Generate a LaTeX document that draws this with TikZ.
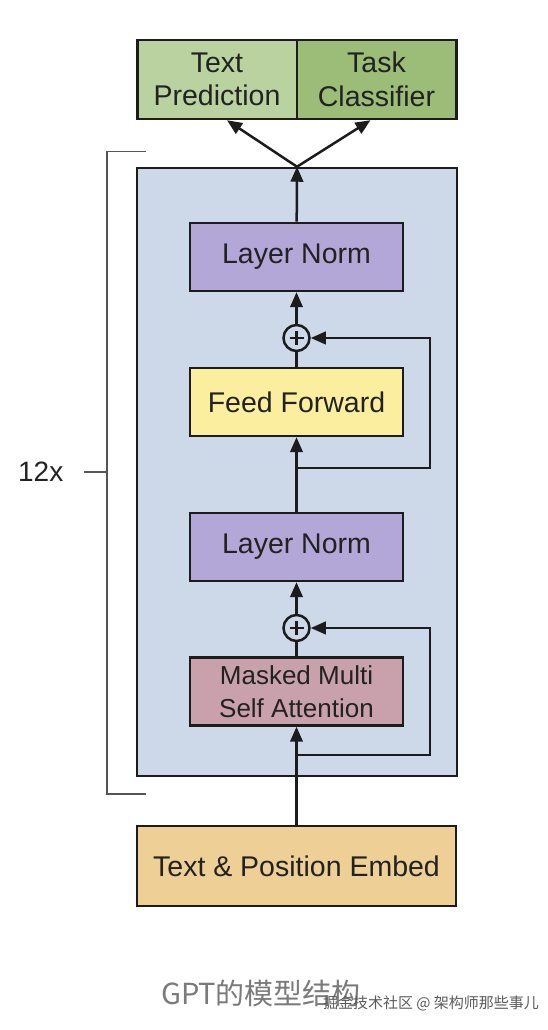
\documentclass[tikz,border=0pt]{standalone}
\usepackage{fontspec}
\setmainfont{Liberation Sans}
\newfontfamily\cjkfont{Noto Sans CJK SC}
\usepackage{xcolor}
\usetikzlibrary{positioning,arrows.meta}
\definecolor{stackblue}{HTML}{CDD9E9}
\definecolor{predgreen}{HTML}{B9D2A0}
\definecolor{clsgreen}{HTML}{9BBD77}
\definecolor{normpurple}{HTML}{B3A7D7}
\definecolor{ffyellow}{HTML}{FBEF9F}
\definecolor{attnpink}{HTML}{C9A1AD}
\definecolor{embedtan}{HTML}{EECF96}
\definecolor{boxline}{HTML}{1C1C1C}
\definecolor{textdark}{HTML}{222222}
\definecolor{bracketgray}{HTML}{555555}
\definecolor{captiongray}{HTML}{7A7A7A}
\definecolor{markgray}{HTML}{5A5A5A}

\begin{document}
\begin{tikzpicture}[x=1pt,y=1pt,auto,every node/.style={on grid},
    >={Triangle[length=15pt,width=12.5pt]},
    block/.style={draw=boxline,line width=2.5pt,minimum width=213pt,minimum height=68pt,
      inner sep=0pt,align=center,text=textdark,font=\fontsize{28.5}{33.5}\selectfont},
    head/.style={block,minimum width=159.5pt,minimum height=79pt},
    plus/.style={draw=boxline,line width=2.5pt,circle,minimum size=26pt,inner sep=0pt,
      path picture={\draw[boxline,line width=2.5pt] (path picture bounding box.center)
        +(-7pt,0) -- +(7pt,0) +(0,-7pt) -- +(0,7pt);}},
    flow/.style={draw=boxline,line width=2.5pt}]
    \useasboundingbox (0,0) rectangle (548,1030);
    % the repeated decoder block
    \node[draw=boxline,line width=2.5pt,fill=stackblue,minimum width=320pt,minimum height=608pt] (stack) at (297,558) {};
    \node[block,fill=embedtan,minimum width=319pt,minimum height=80pt] (embed) at (296.5,164) {Text \& Position Embed};
    \node[block,fill=attnpink,font=\fontsize{26}{33}\selectfont,above of=embed,node distance=174.5pt] (attn) {Masked Multi\\Self Attention};
    \node[plus,fill=stackblue,above of=attn,node distance=63.5pt] (add1) {};
    \node[block,fill=normpurple,above of=add1,node distance=81pt] (norm1) {Layer Norm};
    \node[block,fill=ffyellow,above of=norm1,node distance=145pt] (ff) {Feed Forward};
    \node[plus,fill=stackblue,above of=ff,node distance=64pt] (add2) {};
    \node[block,fill=normpurple,above of=add2,node distance=81pt] (norm2) {Layer Norm};
    \node[head,fill=predgreen,above of=norm2,node distance=177.5pt,xshift=-79.5pt] (pred) {Text\\Prediction};
    \node[head,fill=clsgreen,right of=pred,node distance=159.5pt] (cls) {Task\\Classifier};
    \coordinate[below of=attn,node distance=63.5pt] (skip1);
    \coordinate[below of=ff,node distance=66pt] (skip2);
    \draw[flow,->] (embed) -- (attn);
    \draw[flow] (attn) -- (add1);
    \draw[flow,->] (add1) -- (norm1);
    \draw[flow,->] (norm1) -- (ff);
    \draw[flow] (ff) -- (add2);
    \draw[flow,->] (add2) -- (norm2);
    \draw[flow,->] (skip1) -- ++(133.5,0) |- (add1);
    \draw[flow,->] (skip2) -- ++(133.5,0) |- (add2);
    \draw[flow,->] (norm2) -- (stack.north);
    \draw[flow,->] (stack.north) -- ([xshift=10pt]pred.south);
    \draw[flow,->] (stack.north) -- ([xshift=-6pt]cls.south);
    % 12x bracket
    \draw[bracketgray,line width=1.5pt] ([xshift=10pt,yshift=15pt]stack.north west) -| ([xshift=-29pt,yshift=-17pt]stack.south west) -- ([xshift=10pt,yshift=-17pt]stack.south west);
    \coordinate (brace) at ([xshift=-29pt]stack.west);
    \coordinate[left of=brace,node distance=23pt] (tick);
    \draw[bracketgray,line width=1.5pt] (brace) -- (tick);
    \node[left of=tick,node distance=43pt,text=textdark,font=\fontsize{28}{33}\selectfont] (reps) {12x};
    % caption
    \node[text=captiongray,font=\cjkfont\fontsize{29}{29}\selectfont] (caption) at (261,37) {GPT的模型结构};
    \node[text=markgray,font=\cjkfont\fontsize{15}{15}\selectfont] (mark) at (431,27) {掘金技术社区 @ 架构师那些事儿};
\end{tikzpicture}
\end{document}
